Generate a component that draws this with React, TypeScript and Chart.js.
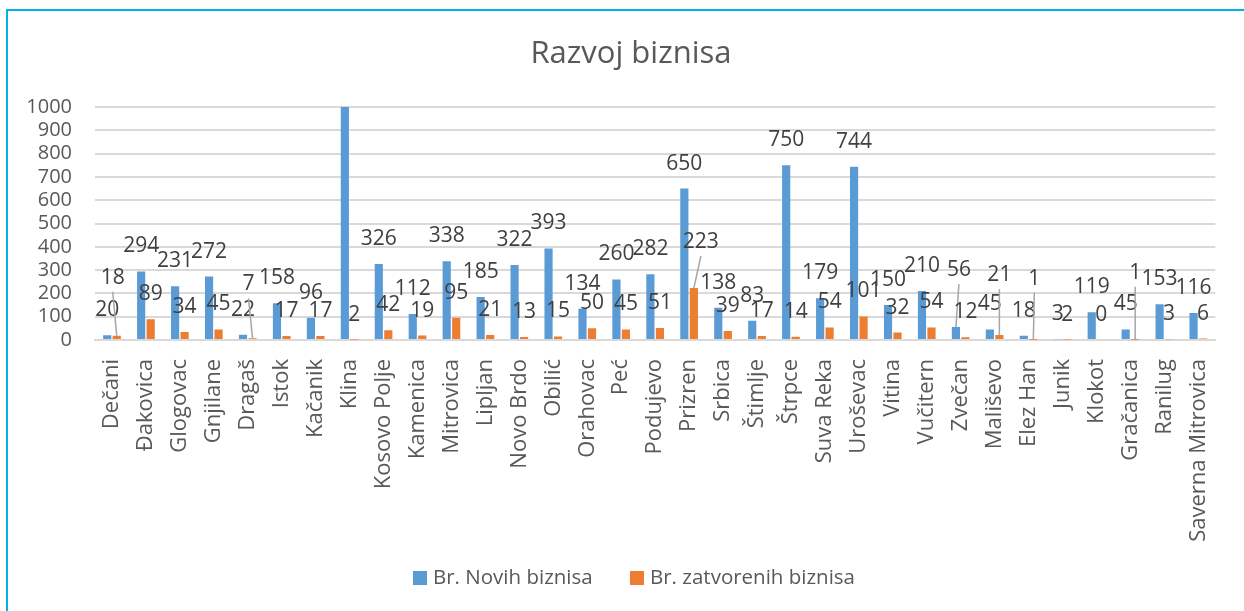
import React, { useEffect, useRef } from "react";
import { Chart, registerables } from "chart.js";

Chart.register(...registerables);

const categories = [
  "Dečani", "Đakovica", "Glogovac", "Gnjilane", "Dragaš", "Istok", "Kačanik", "Klina",
  "Kosovo Polje", "Kamenica", "Mitrovica", "Lipljan", "Novo Brdo", "Obilić", "Orahovac",
  "Peć", "Podujevo", "Prizren", "Srbica", "Štimlje", "Štrpce", "Suva Reka", "Uroševac",
  "Vitina", "Vučitern", "Zvečan", "Mališevo", "Elez Han", "Junik", "Klokot", "Gračanica",
  "Ranilug", "Saverna Mitrovica",
];

const newBusinesses = [
  20, 294, 231, 272, 22, 158, 96, 1050, 326, 112, 338, 185, 322, 393, 134, 260, 282, 650,
  138, 83, 750, 179, 744, 150, 210, 56, 45, 18, 3, 119, 45, 153, 116,
];

const closedBusinesses = [
  18, 89, 34, 45, 7, 17, 17, 2, 42, 19, 95, 21, 13, 15, 50, 45, 51, 223, 39, 17, 14, 54,
  101, 32, 54, 12, 21, 1, 2, 0, 1, 3, 6,
];

const seriesNames = ["Br. Novih biznisa", "Br. zatvorenih biznisa"];
const yTicks = [0, 100, 200, 300, 400, 500, 600, 700, 800, 900, 1000];

// Styling: data labels that were dragged away from their bars (with a leader line)
// [seriesIndex, category, dx, dy] in pixels relative to the default label position
const movedLabels: [number, string, number, number][] = [
  [1, "Dečani", -4, -33],
  [1, "Dragaš", -4, -29],
  [1, "Prizren", 7, -21],
  [0, "Zvečan", 3, -32],
  [1, "Mališevo", 0, -35],
  [1, "Elez Han", 1, -36],
  [1, "Gračanica", 0, -42],
];

const FONT = "'Open Sans', sans-serif";
const BLUE = "#5b9bd5";
const ORANGE = "#ed7d31";
const TEXT = "#595959";

export default function App() {
  const ref = useRef<HTMLCanvasElement | null>(null);

  useEffect(() => {
    if (!ref.current) return;
    const yMax = yTicks[yTicks.length - 1];
    const LABEL_GAP = 25;

    const labelsPlugin = {
      id: "customDraw",
      afterDatasetsDraw(chart: any) {
        const ctx = chart.ctx;
        ctx.save();
        ctx.font = `21px ${FONT}`;
        ctx.textAlign = "center";
        ctx.textBaseline = "middle";
        chart.data.datasets.forEach((ds: any, di: number) => {
          const meta = chart.getDatasetMeta(di);
          meta.data.forEach((bar: any, i: number) => {
            const v = ds.data[i];
            if (v > yMax) return;
            const mv = movedLabels.find((m) => m[0] === di && m[1] === categories[i]);
            let x = bar.x;
            let y = bar.y - LABEL_GAP;
            if (mv) {
              x += mv[2];
              y += mv[3];
              ctx.strokeStyle = "#a6a6a6";
              ctx.lineWidth = 1.5;
              ctx.beginPath();
              ctx.moveTo(x, y + 14);
              ctx.lineTo(bar.x, bar.y);
              ctx.stroke();
            }
            ctx.fillStyle = "#404040";
            ctx.fillText(String(v), x, y);
          });
        });
        ctx.restore();
      },
      afterDraw(chart: any) {
        const ctx = chart.ctx;
        ctx.save();
        ctx.font = `31px ${FONT}`;
        ctx.fillStyle = TEXT;
        ctx.textAlign = "center";
        ctx.textBaseline = "middle";
        ctx.fillText("Razvoj biznisa", 631, 54);
        ctx.font = `20.5px ${FONT}`;
        ctx.textAlign = "left";
        const items = [
          { x: 413, color: BLUE, text: seriesNames[0] },
          { x: 630, color: ORANGE, text: seriesNames[1] },
        ];
        items.forEach((it) => {
          ctx.fillStyle = it.color;
          ctx.fillRect(it.x, 571, 14, 14);
          ctx.fillStyle = TEXT;
          ctx.fillText(it.text, it.x + 20, 578);
        });
        ctx.restore();
      },
    };

    const chart = new Chart(ref.current, {
      type: "bar",
      data: {
        labels: categories,
        datasets: [
          {
            label: seriesNames[0],
            data: newBusinesses,
            backgroundColor: BLUE,
            categoryPercentage: 0.56,
            barPercentage: 0.86,
          },
          {
            label: seriesNames[1],
            data: closedBusinesses,
            backgroundColor: ORANGE,
            categoryPercentage: 0.56,
            barPercentage: 0.86,
          },
        ],
      },
      options: {
        animation: false,
        responsive: false,
        devicePixelRatio: 1,
        layout: { padding: { left: 0, right: 19, top: 107, bottom: 0 } },
        plugins: {
          legend: { display: false },
          title: { display: false },
          tooltip: { enabled: false },
        },
        scales: {
          x: {
            grid: { display: false, drawTicks: false },
            border: { display: true, color: "#d9d9d9", width: 2 },
            ticks: {
              autoSkip: false,
              maxRotation: 90,
              minRotation: 90,
              padding: 19,
              color: TEXT,
              font: { family: FONT, size: 22 },
            },
            afterFit(scale: any) {
              scale.height = 271;
            },
          },
          y: {
            min: 0,
            max: yMax,
            afterBuildTicks(scale: any) {
              scale.ticks = yTicks.map((v) => ({ value: v }));
            },
            grid: { color: "#d9d9d9", lineWidth: 2, drawTicks: false },
            border: { display: false },
            ticks: {
              autoSkip: false,
              padding: 23,
              color: TEXT,
              font: { family: FONT, size: 20 },
              callback: (v: any) => String(v),
            },
            afterFit(scale: any) {
              scale.width = 95;
            },
          },
        },
      },
      plugins: [labelsPlugin],
    });

    return () => chart.destroy();
  }, []);

  return (
    <div style={{ position: "fixed", left: 0, top: 0, width: 1244, height: 611, background: "#fff" }}>
      <div
        style={{
          position: "absolute",
          left: 6,
          top: 9,
          width: 1400,
          height: 800,
          borderLeft: "2px solid #00b0f0",
          borderTop: "2px solid #00b0f0",
        }}
      />
      <canvas
        ref={ref}
        width={1244}
        height={611}
        style={{ position: "absolute", left: 0, top: 0, width: 1244, height: 611 }}
      />
    </div>
  );
}
